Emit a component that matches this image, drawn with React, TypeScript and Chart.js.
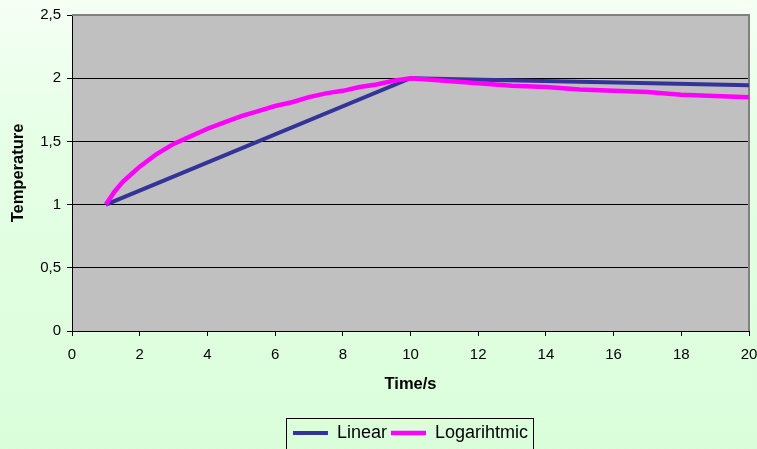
import React, { useEffect, useRef } from "react";
import { Chart, registerables } from "chart.js";

Chart.register(...registerables);

const seriesNames = ["Linear", "Logarihtmic"];
const linearX = [1, 10, 20];
const linearY = [1, 2, 1.945];
const logX = [1, 1.25, 1.5, 1.75, 2, 2.5, 3, 3.5, 4, 4.5, 5, 5.5, 6, 6.5, 7, 7.5, 8, 8.5, 9, 9.5, 10, 11, 12, 13, 14, 15, 16, 17, 18, 19, 20];
const logY = [1, 1.1, 1.18, 1.24, 1.3, 1.4, 1.48, 1.54, 1.6, 1.65, 1.7, 1.74, 1.78, 1.81, 1.85, 1.88, 1.9, 1.93, 1.95, 1.98, 2, 1.98, 1.96, 1.94, 1.93, 1.91, 1.9, 1.89, 1.87, 1.86, 1.85];
const xTitle = "Time/s";
const yTitle = "Temperature";

const FONT = "'Liberation Sans', Arial, sans-serif";

const bgPlugin = {
  id: "bgPlugin",
  afterLayout(chart: any) {
    const legend = chart.legend;
    if (legend) {
      legend.left = chart.chartArea.left;
      legend.right = chart.chartArea.right;
    }
  },
  beforeDraw(chart: any) {
    const { ctx, width, height, chartArea } = chart;
    ctx.save();
    const g = ctx.createLinearGradient(0, 0, 0, height);
    g.addColorStop(0, "#f5fff5");
    g.addColorStop(0.3, "#e6ffe6");
    g.addColorStop(1, "#dafeda");
    ctx.fillStyle = g;
    ctx.fillRect(0, 0, width, height);
    ctx.fillStyle = "#c0c0c0";
    ctx.fillRect(chartArea.left, chartArea.top, chartArea.right - chartArea.left, chartArea.bottom - chartArea.top);
    ctx.restore();
  },
  beforeDatasetsDraw(chart: any) {
    const { ctx, chartArea } = chart;
    ctx.save();
    ctx.strokeStyle = "#808080";
    ctx.lineWidth = 2;
    ctx.beginPath();
    ctx.moveTo(chartArea.left, chartArea.top);
    ctx.lineTo(chartArea.right, chartArea.top);
    ctx.lineTo(chartArea.right, chartArea.bottom);
    ctx.stroke();
    ctx.restore();
  },
  afterDraw(chart: any) {
    const legend = chart.legend;
    if (!legend || !legend.legendHitBoxes || !legend.legendHitBoxes.length) return;
    const boxes = legend.legendHitBoxes;
    let l = Infinity, r = -Infinity, t = Infinity;
    boxes.forEach((b: any) => {
      l = Math.min(l, b.left);
      r = Math.max(r, b.left + b.width);
      t = Math.min(t, b.top);
    });
    const ctx = chart.ctx;
    ctx.save();
    ctx.strokeStyle = "#000000";
    ctx.lineWidth = 1;
    ctx.strokeRect(Math.round(l - 7) + 0.5, Math.round(t - 6) + 0.5, Math.round(r - l + 12), 100);
    ctx.restore();
  },
};

export default function App() {
  const ref = useRef<HTMLCanvasElement | null>(null);
  useEffect(() => {
    document.body.style.margin = "0";
    const canvas = ref.current;
    if (!canvas) return;
    const chart = new Chart(canvas, {
      type: "line",
      data: {
        datasets: [
          {
            label: seriesNames[0],
            data: linearX.map((x, i) => ({ x, y: linearY[i] })),
            borderColor: "#333399",
            backgroundColor: "#333399",
            borderWidth: 4,
            pointRadius: 0,
            pointStyle: "line",
            tension: 0,
            order: 1,
          },
          {
            label: seriesNames[1],
            data: logX.map((x, i) => ({ x, y: logY[i] })),
            borderColor: "#ff00ff",
            backgroundColor: "#ff00ff",
            borderWidth: 4.5,
            pointRadius: 0,
            pointStyle: "line",
            tension: 0,
            order: 0,
          },
        ],
      },
      options: {
        animation: false,
        responsive: false,
        layout: { padding: { top: 15, right: 8, left: 0, bottom: -3 } },
        plugins: {
          tooltip: { enabled: false },
          legend: {
            position: "bottom",
            labels: {
              font: { family: FONT, size: 18 },
              color: "#000000",
              usePointStyle: true,
              pointStyleWidth: 35,
              padding: 4,
              sort: (a: any, b: any) => a.datasetIndex - b.datasetIndex,
            },
          },
        },
        scales: {
          x: {
            type: "linear",
            min: 0,
            max: 20,
            ticks: {
              stepSize: 2,
              font: { family: FONT, size: 15 },
              color: "#000000",
              padding: 10,
              maxRotation: 0,
            },
            grid: {
              drawOnChartArea: false,
              tickLength: 5,
              tickColor: "#000000",
            },
            border: { display: true, color: "#000000", width: 1 },
            title: {
              display: true,
              text: xTitle,
              font: { family: FONT, size: 16.5, weight: "bold" },
              color: "#000000",
              padding: { top: 0, bottom: 26 },
            },
            afterFit(scale: any) {
              scale.height = 89;
              scale.paddingRight = 0;
            },
          },
          y: {
            type: "linear",
            min: 0,
            max: 2.5,
            ticks: {
              stepSize: 0.5,
              font: { family: FONT, size: 15 },
              color: "#000000",
              padding: 6,
              callback: (v: any) => String(v).replace(".", ","),
            },
            grid: {
              color: "#000000",
              tickColor: "#000000",
              tickLength: 5,
              lineWidth: 1,
            },
            border: { display: true, color: "#000000", width: 1 },
            title: {
              display: true,
              text: yTitle,
              font: { family: FONT, size: 16.5, weight: "bold" },
              color: "#000000",
              padding: { top: 9, bottom: 0 },
            },
            afterFit(scale: any) {
              scale.width = 72;
            },
          },
        },
      },
      plugins: [bgPlugin],
    });
    return () => chart.destroy();
  }, []);
  return (
    <div style={{ width: 757, height: 449 }}>
      <canvas ref={ref} width={757} height={449} style={{ display: "block" }} />
    </div>
  );
}
